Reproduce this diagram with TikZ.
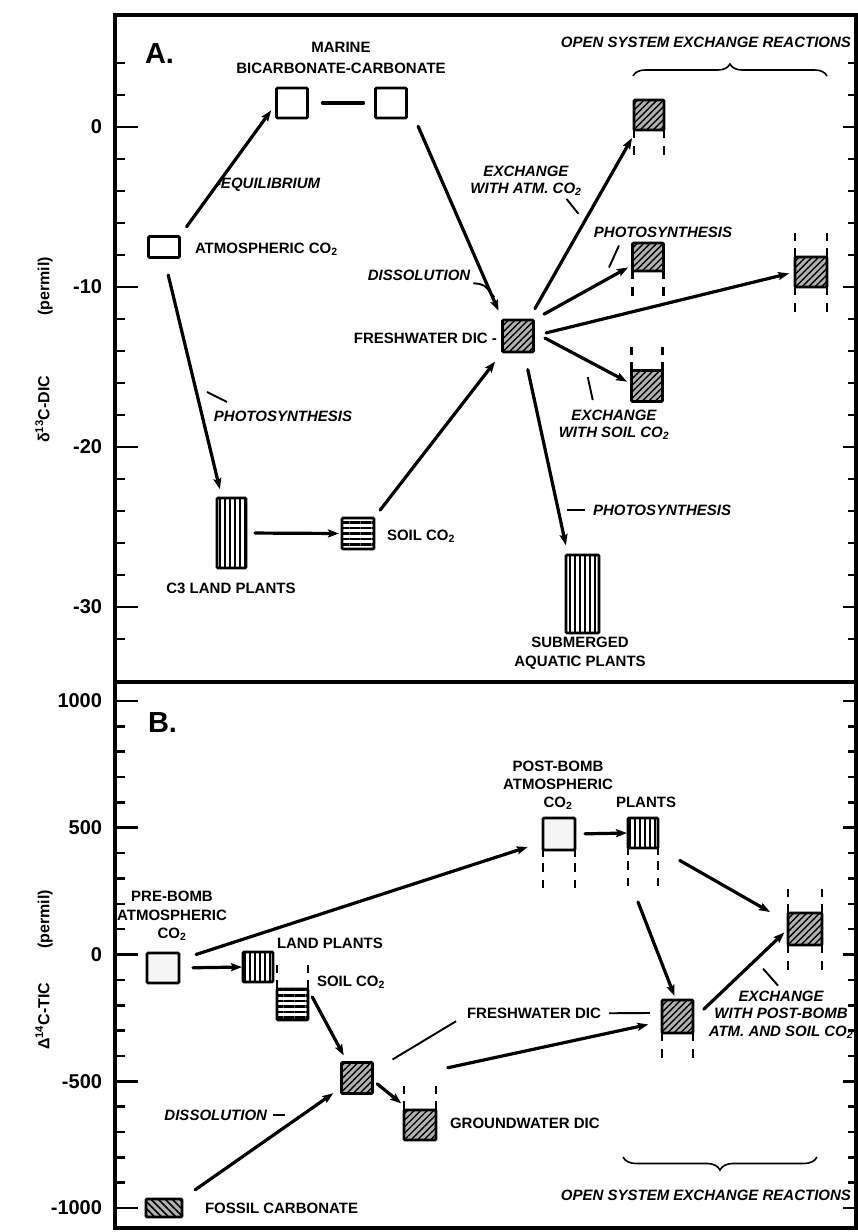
\documentclass[tikz,border=0pt]{standalone}
\usepackage{fontspec}
\setmainfont{Liberation Sans}
\usetikzlibrary{arrows.meta,patterns.meta,calc,decorations.pathreplacing}
\newcommand\wdown[1]{\draw[wall] (#1.south west) -- ++(0,8) (#1.south east) -- ++(0,8) ($(#1.south west)+(0,16)$) -- ++(0,9) ($(#1.south east)+(0,16)$) -- ++(0,9);}
\newcommand\wdowntwo[1]{\draw[wall] (#1.south west) -- ++(0,7) (#1.south east) -- ++(0,7) ($(#1.south west)+(0,13)$) -- ++(0,9) ($(#1.south east)+(0,13)$) -- ++(0,9) ($(#1.south west)+(0,30)$) -- ++(0,8) ($(#1.south east)+(0,30)$) -- ++(0,8);}
\newcommand\wup[1]{\draw[wall] (#1.north west) -- ++(0,-9) (#1.north east) -- ++(0,-9) ($(#1.north west)+(0,-16)$) -- ++(0,-8) ($(#1.north east)+(0,-16)$) -- ++(0,-8);}
\begin{document}
\begin{tikzpicture}[x=1pt,y=-1pt,
  every node/.style={inner sep=0pt, outer sep=0pt},
  frame/.style={line width=3.4pt},
  tickmark/.style={line width=2.6pt},
  arr/.style={line width=3.2pt, line cap=round, -{Stealth[length=11pt,width=8pt,inset=2pt]}},
  link/.style={line width=3.2pt, line cap=round},
  leader/.style={line width=1.9pt},
  wall/.style={line width=2.5pt},
  bracestyle/.style={line width=1.6pt, decorate},
  box/.style={draw, line width=2.8pt, rounded corners=1.2pt},
  openbox/.style={box, fill=white},
  dotbox/.style={box, fill=gray!8},
  hatchbox/.style={box, preaction={fill=gray!60}, pattern={Lines[angle=45,distance=4.6pt,line width=1.4pt]}},
  fossilbox/.style={box, preaction={fill=gray!60}, pattern={Lines[angle=-45,distance=5pt,line width=1.6pt]}},
  vstripe/.style={box, preaction={fill=white}, pattern={Lines[angle=90,distance=5pt,line width=2.6pt]}},
  hstripe/.style={box, preaction={fill=white}, pattern={Lines[angle=0,distance=5.5pt,line width=2.8pt]}},
  lab/.style={font=\bfseries\fontsize{15}{18}\selectfont},
  ilab/.style={font=\bfseries\itshape\fontsize{15}{18}\selectfont},
  num/.style={font=\bfseries\fontsize{20}{22}\selectfont},
  bigl/.style={font=\bfseries\fontsize{29}{32}\selectfont},
  axtitle/.style={font=\bfseries\fontsize{16}{18}\selectfont, rotate=90}
]
\useasboundingbox (0,0) rectangle (858,1232);
\fill[white] (0,0) rectangle (858,1232);

% ---------- axes ticks panel A
\foreach \v in {4,2,...,-32} {
  \draw[tickmark] (115,{127-16*(\v)}) -- (125,{127-16*(\v)});
  \draw[tickmark] (856,{127-16*(\v)}) -- (848,{127-16*(\v)});
}
\foreach \v in {0,-10,-20,-30} {
  \draw[tickmark] (115,{127-16*(\v)}) -- (138,{127-16*(\v)});
  \draw[tickmark] (856,{127-16*(\v)}) -- (843,{127-16*(\v)});
  \node[num, anchor=east] at (102,{127-16*(\v)}) {\v};
}
% ---------- axes ticks panel B
\foreach \v in {-10,...,10} {
  \draw[tickmark] (115,{954.5-25.35*(\v)}) -- (125,{954.5-25.35*(\v)});
  \draw[tickmark] (856,{954.5-25.35*(\v)}) -- (848,{954.5-25.35*(\v)});
}
\foreach \v/\t in {10/1000,5/500,0/0,-5/-500,-10/-1000} {
  \draw[tickmark] (115,{954.5-25.35*(\v)}) -- (138,{954.5-25.35*(\v)});
  \draw[tickmark] (856,{954.5-25.35*(\v)}) -- (843,{954.5-25.35*(\v)});
  \node[num, anchor=east] at (102,{954.5-25.35*(\v)}) {\t};
}
\node[axtitle] (ytA) at (44,350) {δ\textsuperscript{13}C-DIC\hspace{60pt}(permil)};
\node[axtitle] (ytB) at (44,970) {Δ\textsuperscript{14}C-TIC\hspace{34pt}(permil)};

% ================= PANEL A
\node[bigl, anchor=base west] (labA) at (145,63.4) {A.};
\node[openbox, minimum width=31pt, minimum height=30pt] (mar1) at (292,103) {};
\node[openbox, minimum width=31pt, minimum height=30pt] (mar2) at (391,103) {};
\node[openbox, minimum width=31pt, minimum height=21pt] (atm) at (164,247) {};
\node[hatchbox, minimum width=31pt, minimum height=32pt] (fw) at (518,336) {};
\node[hatchbox, minimum width=30pt, minimum height=30pt] (exA) at (649,115) {};
\node[hatchbox, minimum width=31pt, minimum height=28pt] (phA) at (648,257) {};
\node[hatchbox, minimum width=32pt, minimum height=30pt] (rtA) at (811,272) {};
\node[hatchbox, minimum width=31pt, minimum height=31pt] (soA) at (647,386) {};
\node[vstripe, minimum width=29pt, minimum height=70pt] (c3) at (231.5,533) {};
\node[hstripe, minimum width=32pt, minimum height=31pt] (soil) at (358,533.5) {};
\node[vstripe, minimum width=33pt, minimum height=78pt] (sub) at (582.5,594) {};
\wdown{exA}
\wdown{phA}
\wdown{rtA}
\wup{rtA}
\wup{soA}

\draw[arr, shorten <=12pt, shorten >=9pt] (atm.north east) -- (mar1.west);
\draw[link, shorten <=15pt, shorten >=12pt] (mar1.east) -- (mar2.west);
\draw[arr, shorten <=9pt, shorten >=10pt] ($(mar2.south east)+(8,0)$) -- (fw.north west);
\draw[arr, shorten <=18pt, shorten >=9pt] (atm.south) -- ($(c3.north west)+(5,0)$);
\draw[arr, shorten <=9pt, shorten >=3pt] (c3.east) -- (soil.west);
\draw[arr, shorten <=10pt, shorten >=12pt] (soil.north east) -- (fw.south west);
\draw[arr, shorten <=13pt] ($(fw.north east)+(-5,0)$) -- ($(exA.south west)+(-2,8)$);
\draw[arr, shorten <=12pt, shorten >=5pt] (fw.north east) -- ($(phA.west)+(0,8)$);
\draw[arr, shorten <=13pt, shorten >=6pt] (fw.east) -- (rtA.west);
\draw[arr, shorten <=13pt, shorten >=5pt] ($(fw.east)+(0,-4)$) -- ($(soA.west)+(0,-2)$);
\draw[arr, shorten <=18pt, shorten >=10pt] ($(fw.south)+(6,0)$) -- ($(sub.north west)+(2,0)$);

\node[lab, align=center, font=\bfseries\fontsize{15}{21.5}\selectfont] (marlab) at (341,58) {MARINE\\BICARBONATE-CARBONATE};
\node[ilab, anchor=base west] (eqlab) at (216,188.4) {-EQUILIBRIUM};
\node[lab, anchor=base west] (atmlab) at (195,253.4) {ATMOSPHERIC CO\textsubscript{2}};
\node[ilab, anchor=base] (dislab) at (419,280.4) {DISSOLUTION};
\draw[leader] ($(dislab.east)+(3,8)$) .. controls ($(dislab.east)+(14,9)$) .. ($(dislab.east)+(24,22)$);
\node[lab, anchor=base east] (fwlab) at (497,343.4) {FRESHWATER DIC -};
\node[ilab, anchor=base east] (openA) at (851,47.4) {OPEN SYSTEM EXCHANGE REACTIONS};
\draw[bracestyle, decoration={brace, amplitude=12pt}] (633,76) -- (827,76);
\node[ilab, align=center, font=\bfseries\itshape\fontsize{15}{17}\selectfont] (exatmlab) at (526,181) {EXCHANGE\\WITH ATM. CO\textsubscript{2}};
\draw[leader] ($(exatmlab.south east)+(-15,3)$) -- ++(12,15);
\node[ilab, anchor=base] (ph1) at (663,237.4) {PHOTOSYNTHESIS};
\draw[leader] ($(ph1.south west)+(25,8)$) -- ++(-10,22);
\node[ilab, align=center, font=\bfseries\itshape\fontsize{15}{17}\selectfont] (exsoil) at (614,425) {EXCHANGE\\WITH SOIL CO\textsubscript{2}};
\draw[leader] ($(exsoil.north west)+(29,-33)$) -- ++(5,23);
\node[ilab, anchor=base] (ph2) at (283,421.4) {PHOTOSYNTHESIS};
\draw[leader] ($(ph2.north west)+(-7,-19)$) -- ++(20,10);
\node[ilab, anchor=base west] (ph3) at (593,515.4) {PHOTOSYNTHESIS};
\draw[leader] ($(ph3.west)+(-26,0)$) -- ++(18,0);
\node[lab, anchor=base] (c3lab) at (231,593) {C3 LAND PLANTS};
\node[lab, anchor=base west] (soillab) at (387,540.4) {SOIL CO\textsubscript{2}};
\node[lab, align=center, font=\bfseries\fontsize{15}{19}\selectfont] (sublab) at (580,653.5) {SUBMERGED\\AQUATIC PLANTS};

% ================= PANEL B
\node[bigl, anchor=base west] (labB) at (148,732) {B.};
\node[dotbox, minimum width=32pt, minimum height=30pt] (pre) at (163,968) {};
\node[vstripe, minimum width=30pt, minimum height=30pt] (lp) at (258,967) {};
\node[hstripe, minimum width=31pt, minimum height=31pt] (soilB) at (292.5,1004.5) {};
\node[hatchbox, minimum width=31pt, minimum height=31pt] (dic) at (357,1078) {};
\node[hatchbox, minimum width=32pt, minimum height=30pt] (gw) at (420,1125) {};
\node[fossilbox, minimum width=36pt, minimum height=18pt] (fossil) at (164,1208) {};
\node[dotbox, minimum width=32pt, minimum height=32pt] (post) at (559,834) {};
\node[vstripe, minimum width=30pt, minimum height=30pt] (plB) at (643,833) {};
\node[hatchbox, minimum width=34pt, minimum height=32pt] (rtB) at (805,929) {};
\node[hatchbox, minimum width=31pt, minimum height=33pt] (rdic) at (677.5,1016.5) {};
\wup{soilB}
\wup{gw}
\wdowntwo{post}
\wdowntwo{plB}
\wup{rtB}
\wdown{rtB}
\wdown{rdic}

\draw[arr, shorten <=18pt, shorten >=16pt] ($(pre.east)+(0,-8)$) -- ($(post.west)+(0,8)$);
\draw[arr, shorten <=14pt, shorten >=1pt] (pre.east) -- (lp.west);
\draw[arr, shorten <=9pt, shorten >=8pt] (soilB.north east) -- ($(dic.north west)+(6,0)$);
\draw[arr, shorten <=6pt, shorten >=1pt] ($(dic.east)+(0,2)$) -- ($(gw.north west)+(-2,-6)$);
\draw[arr, shorten <=16pt, shorten >=10pt] (fossil.north east) -- ($(dic.south west)+(0,-6)$);
\draw[arr, shorten <=77pt, shorten >=14pt] ($(dic.east)+(0,6)$) -- ($(rdic.west)+(0,5)$);
\draw[arr, shorten <=10pt, shorten >=1pt] (post.east) -- (plB.west);
\draw[arr, shorten <=25pt] (plB.south east) -- ($(rtB.north west)+(-18,-1)$);
\draw[arr] ($(plB.south)+(-5,54)$) -- ($(rdic.north)+(-3,-4)$);
\draw[arr, shorten <=15pt, shorten >=5pt] ($(rdic.east)+(0,3)$) -- (rtB.west);

\node[lab, align=center, font=\bfseries\fontsize{15}{18.5}\selectfont] (prelab) at (172,916) {PRE-BOMB\\ATMOSPHERIC\\CO\textsubscript{2}};
\node[lab, anchor=base west] (lplab) at (277,948.4) {LAND PLANTS};
\node[lab, anchor=base west] (soilBlab) at (317,986.4) {SOIL CO\textsubscript{2}};
\node[ilab, anchor=base east] (disB) at (267,1120.4) {DISSOLUTION};
\draw[leader] ($(disB.east)+(6,0)$) -- ++(12,0);
\node[lab, anchor=base west] (gwlab) at (450,1128.4) {GROUNDWATER DIC};
\node[lab, anchor=base west] (fosslab) at (205,1213.4) {FOSSIL CARBONATE};
\node[lab, anchor=base] (fwBlab) at (534,1018.4) {FRESHWATER DIC};
\draw[leader] ($(dic.north east)+(20,-3)$) -- ($(fwBlab.west)+(-11,8)$);
\draw[leader] ($(fwBlab.east)+(8,0)$) -- ($(rdic.west)+(-12,-3.5)$);
\node[lab, align=center, font=\bfseries\fontsize{15}{18}\selectfont] (postlab) at (558,785) {POST-BOMB\\ATMOSPHERIC\\CO\textsubscript{2}};
\node[lab, anchor=base] (pllab) at (646,807.4) {PLANTS};
\node[ilab, align=center, font=\bfseries\itshape\fontsize{15}{17.5}\selectfont] (exBlab) at (781,1014.5) {EXCHANGE\\WITH POST-BOMB\\ATM. AND SOIL CO\textsubscript{2}};
\draw[leader] ($(exBlab.north)+(-18,-22)$) -- ++(15,17);
\draw[bracestyle, decoration={brace, amplitude=13pt}] (817,1157) -- (623,1157);
\node[ilab, anchor=base east] (openB) at (851,1200.4) {OPEN SYSTEM EXCHANGE REACTIONS};

% ---------- frame
\draw[frame] (115,15) -- (856,15) -- (856,1228) -- (115,1228) -- cycle;
\draw[frame] (115,682) -- (856,682);
\end{tikzpicture}
\end{document}
